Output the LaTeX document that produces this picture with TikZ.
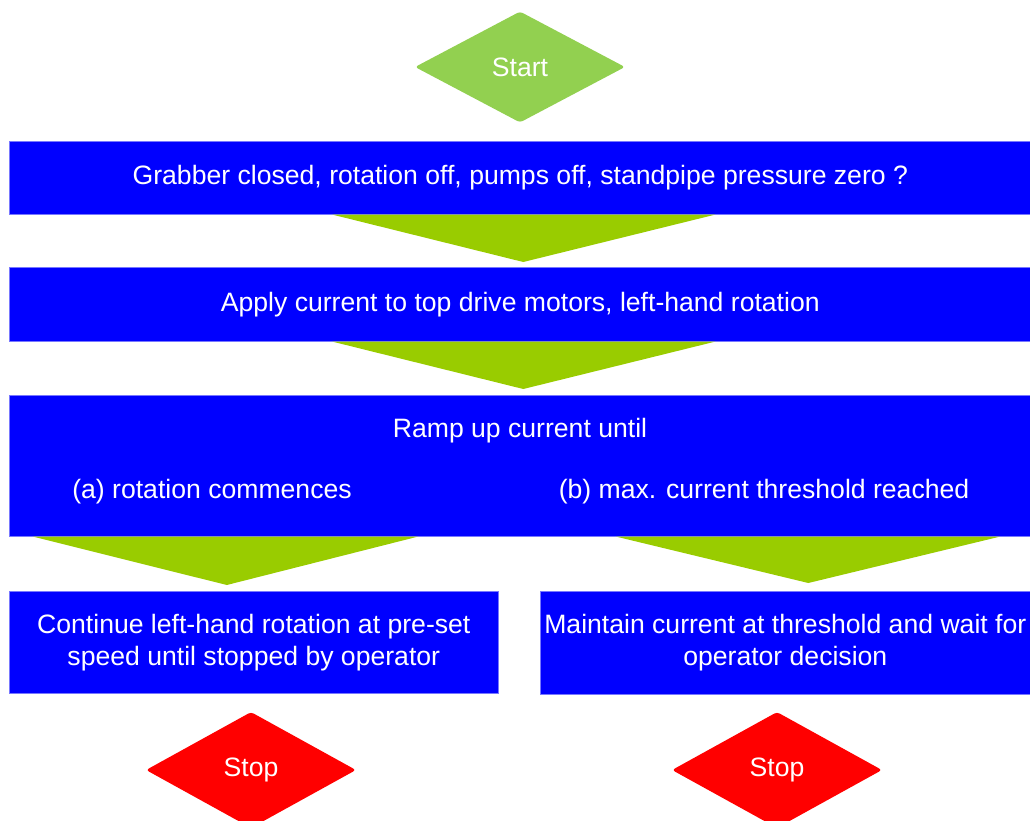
\documentclass[tikz,border=0pt]{standalone}
\usepackage{fontspec}
\setmainfont{Liberation Sans}
\usetikzlibrary{shapes.geometric,calc}
\definecolor{boxblue}{RGB}{0,0,255}
\definecolor{boxedge}{RGB}{120,120,255}
\definecolor{flowgreen}{RGB}{153,204,0}
\definecolor{startgreen}{RGB}{146,208,80}
\definecolor{stopred}{RGB}{255,0,0}
\tikzset{
  txt/.style={text=white,font=\fontsize{26.6}{32}\selectfont},
  stepbox/.style={fill=boxblue,draw=boxedge,line width=0.6pt,inner sep=0pt,anchor=north west},
  flowarrow/.style={fill=flowgreen,draw=none},
  terminal/.style={diamond,inner sep=0pt,minimum width=210pt,minimum height=111pt,
    rounded corners=3pt,txt},
}
\begin{document}
\begin{tikzpicture}[x=1pt,y=-1pt]
\useasboundingbox (0,0) rectangle (1030,821);
% start terminal
\node[terminal,fill=startgreen] (start) at (520,67) {Start};
% process boxes
\node[stepbox,minimum width=1022pt,minimum height=73pt] (b1) at (9,141) {};
\node[txt] at (b1.center) {Grabber closed, rotation off, pumps off, standpipe pressure zero ?};
\node[stepbox,minimum width=1022pt,minimum height=74pt] (b2) at (9,267) {};
\node[txt] at (b2.center) {Apply current to top drive motors, left-hand rotation};
\node[stepbox,minimum width=1022pt,minimum height=141pt] (b3) at (9,395) {};
\node[txt] (b3t) at (520,431) {Ramp up current until};
\node[txt] (b3a) at (212,492) {(a) rotation commences};
\node[txt] (b3b) at (764,492) {(b) max. current threshold reached};
\node[stepbox,minimum width=489pt,minimum height=102pt] (b4) at (9,591) {};
\node[txt,align=center] at (b4.center) {Continue left-hand rotation at pre-set\\speed until stopped by operator};
\node[stepbox,minimum width=490pt,minimum height=103pt] (b5) at (540,591) {};
\node[txt,align=center] at (b5.center) {Maintain current at threshold and wait for\\operator decision};
% stop terminals
\node[terminal,fill=stopred,minimum height=116pt] (stop1) at (251,770) {Stop};
\node[terminal,fill=stopred,minimum height=116pt] (stop2) at (777,770) {Stop};
% flow arrows between the boxes
\fill[flowarrow] ($(b1.south)+(-188,0)$) -- ($(b1.south)+(195,0)$) -- ($(b2.north)+(3,-5)$) -- cycle;
\fill[flowarrow] ($(b2.south)+(-188,0)$) -- ($(b2.south)+(195,0)$) -- ($(b3.north)+(3,-6)$) -- cycle;
\fill[flowarrow] ($(b3.south west)+(24,0)$) -- ($(b3.south west)+(409,0)$) -- ($(b4.north)+(-27,-6)$) -- cycle;
\fill[flowarrow] ($(b3.south west)+(607,0)$) -- ($(b3.south west)+(991,0)$) -- ($(b5.north)+(23,-8)$) -- cycle;
\end{tikzpicture}
\end{document}
